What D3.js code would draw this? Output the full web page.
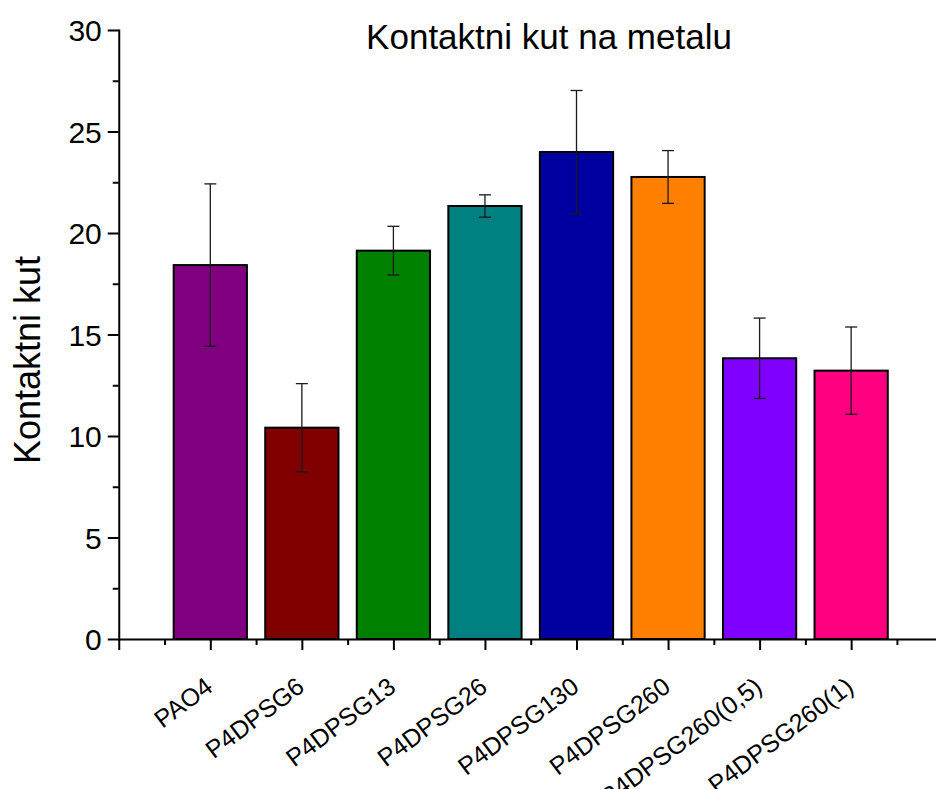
<!DOCTYPE html>
<html>
<head>
<meta charset="utf-8">
<script src="https://cdn.jsdelivr.net/npm/d3@7/dist/d3.min.js"></script>
<style>
  html, body { margin: 0; padding: 0; background: #fff; }
  svg { display: block; }
  text { font-family: "Liberation Sans", Arial, Helvetica, sans-serif; fill: #000; }
</style>
</head>
<body>
<svg id="chart" width="936" height="789"></svg>
<script>
const categories = ["PAO4", "P4DPSG6", "P4DPSG13", "P4DPSG26", "P4DPSG130", "P4DPSG260", "P4DPSG260(0,5)", "P4DPSG260(1)"];
const values = [18.42, 10.41, 19.13, 21.33, 23.99, 22.76, 13.83, 13.22];
const errors = [4.0, 2.17, 1.2, 0.55, 3.03, 1.3, 1.98, 2.15];
const colors = ["#800080", "#800000", "#008000", "#008080", "#0000A0", "#FF8000", "#8000FF", "#FF0080"];
const yTicks = [0, 5, 10, 15, 20, 25, 30];
const yMinorTicks = [2.5, 7.5, 12.5, 17.5, 22.5, 27.5];
const xMajorTicks = [0, 1, 2, 3, 4, 5, 6, 7, 8, 9];
const xMinorTicks = [0.5, 1.5, 2.5, 3.5, 4.5, 5.5, 6.5, 7.5, 8.5];
const title = "Kontaktni kut na metalu";
const yLabel = "Kontaktni kut";

const svg = d3.select("#chart");
const x0 = 118.75, step = 91.55;
const x = d3.scaleLinear().domain([0, 9]).range([x0, x0 + 9 * step]);
const y = d3.scaleLinear().domain([0, 30]).range([639, 30]);
const barW = 0.8;

// bars
svg.append("g").selectAll("rect").data(values).join("rect")
  .attr("x", (d, i) => x(i + 1 - barW / 2))
  .attr("width", (d, i) => x(i + 1 + barW / 2) - x(i + 1 - barW / 2))
  .attr("y", d => y(d))
  .attr("height", d => y(0) - y(d))
  .attr("fill", (d, i) => colors[i])
  .attr("stroke", "#000")
  .attr("stroke-width", 2);

// error bars
const eg = svg.append("g").attr("stroke", "#1a1a1a").attr("stroke-width", 1.3).attr("fill", "none");
values.forEach((v, i) => {
  const cx = x(i + 1);
  const capHalf = 6;
  eg.append("line").attr("x1", cx).attr("x2", cx).attr("y1", y(v + errors[i])).attr("y2", y(v - errors[i]));
  eg.append("line").attr("x1", cx - capHalf).attr("x2", cx + capHalf).attr("y1", y(v + errors[i])).attr("y2", y(v + errors[i]));
  eg.append("line").attr("x1", cx - capHalf).attr("x2", cx + capHalf).attr("y1", y(v - errors[i])).attr("y2", y(v - errors[i]));
});

// y axis
const yAxis = svg.append("g").attr("transform", `translate(${x0},0)`)
  .call(d3.axisLeft(y).tickValues(yTicks).tickSize(11).tickSizeOuter(0).tickPadding(6).tickFormat(d3.format("d")));
yAxis.select(".domain").attr("stroke-width", 2);
yAxis.selectAll(".tick line").attr("stroke-width", 2);
yAxis.selectAll(".tick text").style("font-size", "30px").attr("font-family", null).attr("dy", "0.36em");
const yMinor = svg.append("g").attr("transform", `translate(${x0},0)`)
  .call(d3.axisLeft(y).tickValues(yMinorTicks).tickSize(6).tickSizeOuter(0).tickFormat(""));
yMinor.select(".domain").remove();
yMinor.selectAll(".tick line").attr("stroke-width", 2);

// x axis
const xAxis = svg.append("g").attr("transform", `translate(0,${y(0)})`)
  .call(d3.axisBottom(x).tickValues(xMajorTicks).tickSize(11).tickSizeOuter(0).tickFormat(""));
xAxis.select(".domain").attr("stroke-width", 2);
xAxis.selectAll(".tick line").attr("stroke-width", 2);
const xMinor = svg.append("g").attr("transform", `translate(0,${y(0)})`)
  .call(d3.axisBottom(x).tickValues(xMinorTicks).tickSize(6).tickSizeOuter(0).tickFormat(""));
xMinor.select(".domain").remove();
xMinor.selectAll(".tick line").attr("stroke-width", 2);
svg.selectAll(".domain").attr("stroke-linecap", "square");

// x category labels
svg.append("g").selectAll("text").data(categories).join("text")
  .attr("transform", (d, i) => `translate(${x(i + 1) + 4},690) rotate(-37)`)
  .attr("text-anchor", "end")
  .style("font-size", "25px")
  .text(d => d);

// title
svg.append("text").attr("x", 549).attr("y", 49).attr("text-anchor", "middle")
  .style("font-size", "35px").text(title);

// y label
svg.append("text").attr("transform", "translate(40,360) rotate(-90)").attr("text-anchor", "middle")
  .style("font-size", "36px").text(yLabel);
</script>
</body>
</html>
